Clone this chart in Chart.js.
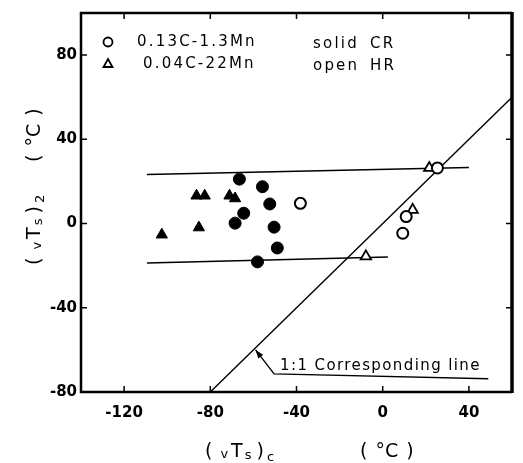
<!DOCTYPE html>
<html>
<head>
<meta charset="utf-8">
<script src="https://cdn.jsdelivr.net/npm/chart.js@4"></script>
<style>
html, body { margin: 0; padding: 0; background: #fff; }
#wrap { width: 523px; height: 463px; }
</style>
</head>
<body>
<div id="wrap"><canvas id="chart"></canvas></div>
<script>
// tick values
var xTicks = [-120, -80, -40, 0, 40];
var yTicks = [-80, -40, 0, 40, 80];

// 0.13C-1.3Mn, solid = CR, open = HR
var circleCR_x = [-66.5, -55.8, -52.4, -64.5, -68.5, -50.4, -48.9, -58.1];
var circleCR_y = [21.1, 17.5, 9.3, 4.9, 0.2, -1.7, -11.6, -18.2];
var circleHR_x = [-38.2, 25.4, 10.9, 9.3];
var circleHR_y = [9.6, 26.4, 3.3, -4.6];

// 0.04C-22Mn
var triCR_x = [-86.4, -82.6, -71.1, -68.5, -85.3, -102.5];
var triCR_y = [13.2, 13.2, 13.2, 11.9, -1.9, -5.3];
var triHR_x = [21.6, 13.9, -7.8];
var triHR_y = [26.4, 6.5, -15.6];

// scatter band lines
var upperBand_x = [-109.4, 40];
var upperBand_y = [23.3, 26.6];
var lowerBand_x = [-109.4, 2.4];
var lowerBand_y = [-18.7, -15.9];

// 1:1 line and its label leader
var oneToOne_x = [-80, 60];
var oneToOne_y = [-80, 60];
var leader_x = [-59, -50.4, 49];
var leader_y = [-60, -71.4, -73.7];

function pts(xs, ys) {
    return xs.map(function(x, i) { return {x: x, y: ys[i]}; });
}

var FONT = "'DejaVu Sans', sans-serif";

function lineSet(xs, ys) {
    return {
        data: pts(xs, ys),
        showLine: true,
        pointRadius: 0,
        borderColor: "#000",
        borderWidth: 1.4,
        fill: false
    };
}

function drawPieces(ctx, pieces, x, y) {
    // pieces: [text, size, dy, gapAfter]
    pieces.forEach(function(p) {
        ctx.font = p[1] + "px " + FONT;
        ctx.fillText(p[0], x, y + p[2]);
        x += ctx.measureText(p[0]).width + p[3];
    });
}

var extras = {
    id: "extras",
    afterDraw: function(chart) {
        var ctx = chart.ctx;
        var a = chart.chartArea;
        var xs = chart.scales.x, ys = chart.scales.y;
        ctx.save();
        ctx.strokeStyle = "#000";
        ctx.fillStyle = "#000";

        // inward ticks on all four sides
        ctx.lineWidth = 1.5;
        xTicks.forEach(function(v) {
            var px = xs.getPixelForValue(v);
            ctx.beginPath();
            ctx.moveTo(px, a.bottom); ctx.lineTo(px, a.bottom - 6);
            ctx.moveTo(px, a.top); ctx.lineTo(px, a.top + 6);
            ctx.stroke();
        });
        yTicks.forEach(function(v) {
            var py = ys.getPixelForValue(v);
            ctx.beginPath();
            ctx.moveTo(a.left, py); ctx.lineTo(a.left + 6, py);
            ctx.moveTo(a.right, py); ctx.lineTo(a.right - 6, py);
            ctx.stroke();
        });

        // frame
        ctx.lineWidth = 2.5;
        ctx.beginPath();
        ctx.moveTo(a.right, a.top); ctx.lineTo(a.left, a.top);
        ctx.lineTo(a.left, a.bottom); ctx.lineTo(a.right, a.bottom);
        ctx.stroke();
        ctx.lineWidth = 3.5;
        ctx.beginPath();
        ctx.moveTo(a.right, a.top - 1); ctx.lineTo(a.right, a.bottom + 1);
        ctx.stroke();

        // arrow head on leader
        var tx = xs.getPixelForValue(leader_x[0]), ty = ys.getPixelForValue(leader_y[0]);
        var bx = xs.getPixelForValue(leader_x[1]), by = ys.getPixelForValue(leader_y[1]);
        var ang = Math.atan2(ty - by, tx - bx);
        ctx.beginPath();
        ctx.moveTo(tx, ty);
        ctx.lineTo(tx - 9 * Math.cos(ang - 0.35), ty - 9 * Math.sin(ang - 0.35));
        ctx.lineTo(tx - 9 * Math.cos(ang + 0.35), ty - 9 * Math.sin(ang + 0.35));
        ctx.closePath();
        ctx.fill();

        // legend
        ctx.lineWidth = 1.8;
        ctx.beginPath();
        ctx.arc(108, 42, 4.5, 0, Math.PI * 2);
        ctx.stroke();
        ctx.beginPath();
        ctx.moveTo(108, 59); ctx.lineTo(112.5, 67); ctx.lineTo(103.5, 67); ctx.closePath();
        ctx.stroke();

        ctx.textBaseline = "middle";
        ctx.textAlign = "left";
        ctx.letterSpacing = "2.2px";
        ctx.font = "15px " + FONT;
        ctx.fillText("0.13C-1.3Mn", 137, 42);
        ctx.fillText("0.04C-22Mn", 143, 64);
        ctx.fillText("solid", 313, 44);
        ctx.fillText("CR", 370, 44);
        ctx.fillText("open", 313, 66);
        ctx.fillText("HR", 370, 66);

        ctx.letterSpacing = "1.4px";
        ctx.font = "15px " + FONT;
        ctx.fillText("1:1 Corresponding line", 280, 366);

        // x axis title
        ctx.letterSpacing = "0px";
        ctx.textBaseline = "alphabetic";
        drawPieces(ctx, [["(", 19, 0, 8], ["v", 13, 1, 3], ["T", 19, 0, 2], ["s", 13, 2, 5],
                         [")", 19, 0, 3], ["c", 13, 4, 0]], 205, 457);
        drawPieces(ctx, [["(", 19, 0, 8], ["°C", 19, 0, 8], [")", 19, 0, 0]], 360, 457);

        // y axis title
        ctx.translate(40, 0);
        ctx.rotate(-Math.PI / 2);
        drawPieces(ctx, [["(", 19, 0, 8], ["v", 13, 1, 3], ["T", 19, 0, 2], ["s", 13, 2, 5],
                         [")", 19, 0, 3], ["2", 13, 4, 0]], -265, 0);
        drawPieces(ctx, [["(", 19, 0, 8], ["°C", 19, 0, 8], [")", 19, 0, 0]], -162, 0);
        ctx.restore();
    }
};

new Chart("chart", {
    type: "scatter",
    data: {
        datasets: [
            {
                data: pts(circleCR_x, circleCR_y),
                pointStyle: "circle", pointRadius: 6,
                backgroundColor: "#000", borderColor: "#000", borderWidth: 1
            },
            {
                data: pts(circleHR_x, circleHR_y),
                pointStyle: "circle", pointRadius: 5.5,
                backgroundColor: "#fff", borderColor: "#000", borderWidth: 2
            },
            {
                data: pts(triCR_x, triCR_y),
                pointStyle: "triangle", pointRadius: 6.5,
                backgroundColor: "#000", borderColor: "#000", borderWidth: 1
            },
            {
                data: pts(triHR_x, triHR_y),
                pointStyle: "triangle", pointRadius: 6,
                backgroundColor: "#fff", borderColor: "#000", borderWidth: 1.8
            },
            lineSet(upperBand_x, upperBand_y),
            lineSet(lowerBand_x, lowerBand_y),
            lineSet(oneToOne_x, oneToOne_y),
            lineSet(leader_x, leader_y)
        ]
    },
    options: {
        responsive: true,
        maintainAspectRatio: false,
        animation: false,
        layout: { padding: { top: 8, right: 11, left: 0, bottom: 0 } },
        plugins: {
            legend: { display: false },
            tooltip: { enabled: false }
        },
        scales: {
            x: {
                type: "linear",
                min: -140,
                max: 60,
                afterBuildTicks: function(s) { s.ticks = xTicks.map(function(v) { return {value: v}; }); },
                afterFit: function(s) { s.height = 71; },
                grid: { display: false, drawTicks: false, tickLength: 0 },
                border: { display: false },
                ticks: {
                    color: "#000",
                    padding: 12,
                    maxRotation: 0,
                    font: { family: FONT, size: 15, weight: "bold" }
                }
            },
            y: {
                type: "linear",
                min: -80,
                max: 100,
                afterBuildTicks: function(s) { s.ticks = yTicks.map(function(v) { return {value: v}; }); },
                afterFit: function(s) { s.width = 81; },
                grid: { display: false, drawTicks: false, tickLength: 0 },
                border: { display: false },
                ticks: {
                    color: "#000",
                    padding: 4,
                    font: { family: FONT, size: 15, weight: "bold" }
                }
            }
        }
    },
    plugins: [extras]
});
</script>
</body>
</html>
